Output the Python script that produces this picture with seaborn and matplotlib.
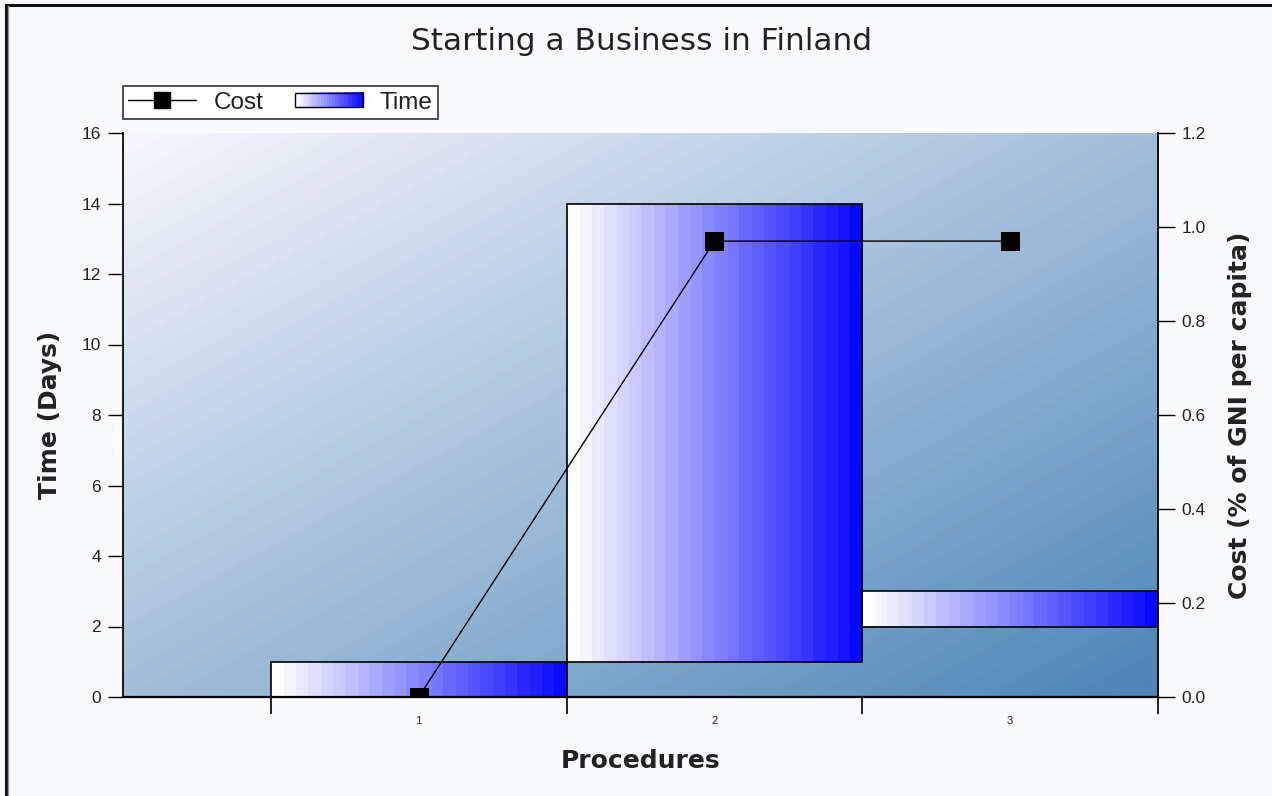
import numpy as np
import pandas as pd
import matplotlib
matplotlib.use("Agg")
import matplotlib.pyplot as plt
import seaborn as sns
from matplotlib.colors import LinearSegmentedColormap
from matplotlib.lines import Line2D
from matplotlib.patches import Rectangle
from matplotlib.image import BboxImage
from matplotlib.transforms import Bbox, TransformedBbox
from matplotlib.legend_handler import HandlerBase

# Procedure data
procedures = [1, 2, 3]
time_start = [0, 1, 2]      # days
time_end = [1, 14, 3]       # days
cost = [0.0, 0.97, 0.97]    # % of GNI per capita

time_ticks = [0, 2, 4, 6, 8, 10, 12, 14, 16]
cost_ticks = [0.0, 0.2, 0.4, 0.6, 0.8, 1.0, 1.2]

sns.set_theme(style="white")
plt.rcParams["font.family"] = ["Liberation Sans", "DejaVu Sans"]

bg = "#f9fafd"
txt = "#222222"
label_font = dict(family="DejaVu Sans", fontsize=18, fontweight="bold", color=txt)

fig = plt.figure(figsize=(12.72, 7.96), dpi=100, facecolor=bg)
ax = fig.add_axes([123 / 1272, 1 - 697 / 796, (1158 - 123) / 1272, (697 - 133) / 796])
ax.set_facecolor("none")

# frame lines on top and left of the figure
fig.add_artist(Line2D([5.5 / 1272, 5.5 / 1272], [0, 1 - 4.5 / 796], transform=fig.transFigure,
                      color="#111111", lw=2.2))
fig.add_artist(Line2D([5.5 / 1272, 1], [1 - 4.5 / 796, 1 - 4.5 / 796], transform=fig.transFigure,
                      color="#111111", lw=2.2))
fig.add_artist(Line2D([7.5 / 1272, 7.5 / 1272], [0, 1 - 6 / 796], transform=fig.transFigure,
                      color="#9a9a9a", lw=1))

# diagonal background gradient of the plot area (light top-left, steel blue bottom-right)
bg_cmap = LinearSegmentedColormap.from_list("bgc", ["#f6f6fd", "#4a84b6"])
gx, gy = np.meshgrid(np.linspace(0, 1, 600), np.linspace(0, 1, 400))
grad = np.floor(((gx + gy) / 2) * 48) / 48
ax.imshow(grad, cmap=bg_cmap, vmin=0, vmax=1, extent=[0, 1, 0, 1], origin="upper",
          transform=ax.transAxes, aspect="auto", zorder=0, interpolation="bilinear")

# floating bars with horizontal white-to-blue fill
bar_cmap = LinearSegmentedColormap.from_list("barc", ["#ffffff", "#0000ff"])
heights = [e - s for s, e in zip(time_start, time_end)]
bars = ax.bar(procedures, heights, bottom=time_start, width=1.0, facecolor="none",
              edgecolor="black", linewidth=1.2, zorder=3)
hgrad = np.floor(np.linspace(0, 1, 256) * 24) / 24
for b in bars:
    x0, y0, w, h = b.get_x(), b.get_y(), b.get_width(), b.get_height()
    im = ax.imshow(hgrad[None, :], cmap=bar_cmap, vmin=0, vmax=1,
                   extent=[x0, x0 + w, y0, y0 + h], aspect="auto", zorder=2,
                   interpolation="nearest")
    im.set_clip_path(b)
ax.set_xlim(0, 3.5)
ax.set_ylim(0, 16)

ax.set_yticks(time_ticks)
ax.set_yticklabels([str(t) for t in time_ticks], fontsize=12.5)
ax.set_xticks([0.5, 1.5, 2.5, 3.5])
ax.set_xticklabels([])
ax.set_xticks(procedures, minor=True)
ax.set_xticklabels([str(p) for p in procedures], minor=True, fontsize=8)
ax.tick_params(axis="x", which="major", direction="out", length=12, width=1.2, color="black",
               bottom=True)
ax.tick_params(axis="x", which="minor", length=0, pad=14, labelcolor=txt)
ax.tick_params(axis="y", direction="out", length=11, width=1, color="black", left=True,
               labelcolor=txt, pad=5)
for s in ["top", "right"]:
    ax.spines[s].set_visible(False)
ax.spines["left"].set_color("black")
ax.spines["bottom"].set_color("black")
ax.spines["bottom"].set_linewidth(1.6)
ax.set_xlabel("Procedures", labelpad=16, **label_font)
ax.set_ylabel("Time (Days)", labelpad=14, **label_font)

# cost line on secondary axis
ax2 = ax.twinx()
ax2.set_facecolor("none")
df = pd.DataFrame({"procedure": procedures, "cost": cost})
sns.lineplot(data=df, x="procedure", y="cost", ax=ax2, color="black", linewidth=1,
             marker="s", markersize=13, markerfacecolor="black", markeredgecolor="black",
             zorder=5, clip_on=True)
ax2.set_ylim(0, 1.2)
ax2.set_xlim(0, 3.5)
ax2.set_yticks(cost_ticks)
ax2.set_yticklabels([f"{c:.1f}" for c in cost_ticks], fontsize=12.5)
ax2.tick_params(axis="y", direction="out", length=12, width=1, color="black", right=True,
                labelcolor=txt, pad=5)
for s in ["top", "left", "bottom"]:
    ax2.spines[s].set_visible(False)
ax2.spines["right"].set_color("black")
ax2.spines["right"].set_linewidth(1.3)
ax2.set_xlabel("")
ax2.set_ylabel("Cost (% of GNI per capita)", labelpad=16, **label_font)

fig.suptitle("Starting a Business in Finland", x=0.504, y=1 - 42 / 796, va="center",
             family="DejaVu Sans", fontsize=22.5, color=txt)


class GradientHandler(HandlerBase):
    def create_artists(self, legend, orig_handle, xdescent, ydescent, width, height,
                       fontsize, trans):
        x0, y0, w, h = -xdescent, -ydescent + height * 0.1, width, height * 0.8
        bb = TransformedBbox(Bbox.from_bounds(x0, y0, w, h), trans)
        img = BboxImage(bb, cmap=bar_cmap, norm=plt.Normalize(0, 1), interpolation="nearest")
        img.set_data(hgrad[None, :])
        rect = Rectangle((x0, y0), w, h, facecolor="none", edgecolor="black", lw=1,
                         transform=trans)
        return [img, rect]


cost_handle = Line2D([], [], color="black", lw=1, marker="s", markersize=12,
                     markerfacecolor="black")
time_handle = Rectangle((0, 0), 1, 1)
leg = fig.legend([cost_handle, time_handle], ["Cost", "Time"],
                 handler_map={Rectangle: GradientHandler()},
                 loc="upper left", bbox_to_anchor=(123 / 1272, 1 - 86 / 796), ncol=2,
                 frameon=True, fancybox=False, edgecolor="black", facecolor="white",
                 fontsize=17.5, handlelength=2.8, handleheight=0.75, columnspacing=1.3,
                 handletextpad=0.7, borderpad=0.22, borderaxespad=0)
leg.get_frame().set_linewidth(1.2)
for t in leg.get_texts():
    t.set_color(txt)

fig.savefig("out.png", dpi=100, facecolor=bg)
